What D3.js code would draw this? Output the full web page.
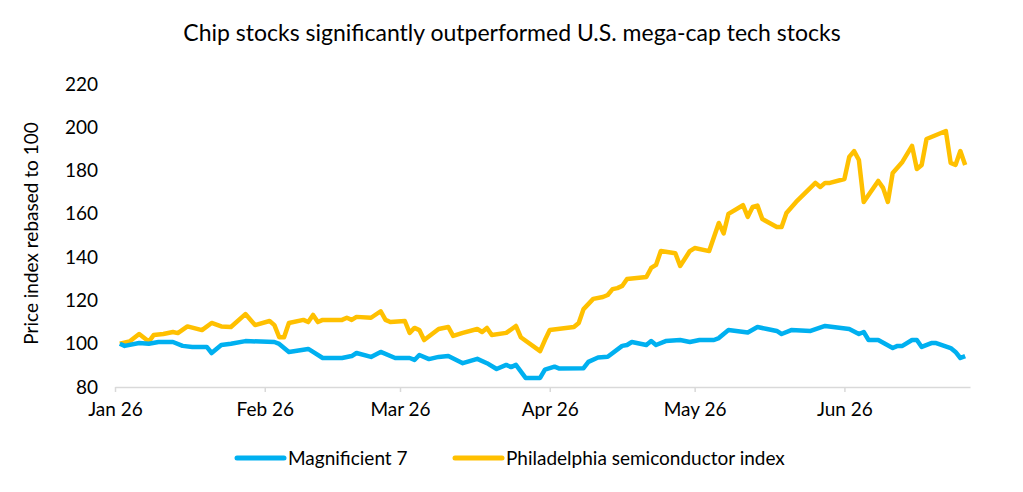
<!DOCTYPE html>
<html>
<head>
<meta charset="utf-8">
<script src="https://cdn.jsdelivr.net/npm/d3@7/dist/d3.min.js"></script>
<style>
	body { margin: 0; background: #fff; }
	text { font-family: Lato, "Open Sans", sans-serif; fill: #000; }
</style>
</head>
<body>
<div id="chart_container"></div>
<script>
// chart values
var chartTitle = "Chip stocks significantly outperformed U.S. mega-cap tech stocks";
var yAxisTitle = "Price index rebased to 100";
var seriesNames = ["Magnificient 7", "Philadelphia semiconductor index"];
var yTicks = [80, 100, 120, 140, 160, 180, 200, 220];
var xTicks = ["2026-01-01", "2026-02-01", "2026-03-01", "2026-04-01", "2026-05-01", "2026-06-01"];
var xDomain = ["2026-01-01", "2026-06-27"];

var m7Dates = ["2026-01-02","2026-01-03","2026-01-06","2026-01-08","2026-01-10","2026-01-13","2026-01-15","2026-01-17","2026-01-20","2026-01-21",
	"2026-01-23","2026-01-25","2026-01-28","2026-02-03","2026-02-04","2026-02-06","2026-02-10","2026-02-11","2026-02-13","2026-02-17",
	"2026-02-19","2026-02-20","2026-02-23","2026-02-25","2026-02-28","2026-03-03","2026-03-04","2026-03-05","2026-03-07","2026-03-09",
	"2026-03-11","2026-03-14","2026-03-17","2026-03-19","2026-03-21","2026-03-23","2026-03-24","2026-03-25","2026-03-27","2026-03-30",
	"2026-03-31","2026-04-02","2026-04-03","2026-04-08","2026-04-09","2026-04-11","2026-04-13","2026-04-16","2026-04-17","2026-04-18",
	"2026-04-21","2026-04-22","2026-04-23","2026-04-25","2026-04-28","2026-04-30","2026-05-02","2026-05-05","2026-05-06","2026-05-07",
	"2026-05-08","2026-05-12","2026-05-14","2026-05-16","2026-05-18","2026-05-19","2026-05-21","2026-05-25","2026-05-28","2026-06-02",
	"2026-06-04","2026-06-05","2026-06-06","2026-06-08","2026-06-11","2026-06-12","2026-06-13","2026-06-15","2026-06-16","2026-06-17",
	"2026-06-19","2026-06-20","2026-06-23","2026-06-24","2026-06-25","2026-06-26"];
var m7Values = [100,99,100.3,100,100.8,100.8,99,98.5,98.5,95.7,
	99.4,100,101.2,100.8,99.9,96.2,97.6,96.2,93.4,93.4,
	94.3,95.7,93.9,96.2,93.4,93.4,92.5,94.8,92.9,93.9,
	94.3,91,93,91,88.3,90.2,89.2,90.2,84.2,84.2,
	88,89.4,88.5,88.7,91.6,93.6,94,99,99.4,100.8,
	99.4,101.2,99.4,101.2,101.7,100.8,101.7,101.7,102.6,104.5,
	106.3,105.2,107.7,106.8,105.9,104.5,106.3,105.9,108.2,106.8,
	104.5,105.4,101.7,101.7,98,99,99,101.7,101.7,98.5,
	100.3,100.3,98,96.2,93.4,94.3];

var soxDates = ["2026-01-02","2026-01-04","2026-01-06","2026-01-08","2026-01-09","2026-01-11","2026-01-13","2026-01-14","2026-01-16","2026-01-19",
	"2026-01-21","2026-01-23","2026-01-25","2026-01-28","2026-01-30","2026-02-02","2026-02-03","2026-02-04","2026-02-05","2026-02-06",
	"2026-02-09","2026-02-10","2026-02-11","2026-02-12","2026-02-13","2026-02-17","2026-02-18","2026-02-19","2026-02-20","2026-02-23",
	"2026-02-25","2026-02-26","2026-02-27","2026-03-02","2026-03-03","2026-03-04","2026-03-05","2026-03-06","2026-03-09","2026-03-11",
	"2026-03-12","2026-03-14","2026-03-17","2026-03-18","2026-03-19","2026-03-20","2026-03-23","2026-03-25","2026-03-26","2026-03-30",
	"2026-03-31","2026-04-01","2026-04-06","2026-04-07","2026-04-08","2026-04-10","2026-04-12","2026-04-13","2026-04-14","2026-04-15",
	"2026-04-16","2026-04-17","2026-04-21","2026-04-22","2026-04-23","2026-04-24","2026-04-27","2026-04-28","2026-04-30","2026-05-01",
	"2026-05-04","2026-05-06","2026-05-07","2026-05-08","2026-05-11","2026-05-12","2026-05-13","2026-05-14","2026-05-15","2026-05-18",
	"2026-05-19","2026-05-20","2026-05-22","2026-05-26","2026-05-27","2026-05-28","2026-05-29","2026-06-01","2026-06-02","2026-06-03",
	"2026-06-04","2026-06-05","2026-06-08","2026-06-09","2026-06-10","2026-06-11","2026-06-13","2026-06-15","2026-06-16","2026-06-17",
	"2026-06-18","2026-06-22","2026-06-23","2026-06-24","2026-06-25","2026-06-26"];
var soxValues = [100,101,104.5,101,104,104.5,105.4,104.9,108,106.3,
	109.6,108,107.7,113.7,108.6,110.5,108.6,103,103,109.6,
	111,110,113.3,110,111,111,112,111,112.4,112,
	115,111,110,110.5,105,107.3,106.3,101.7,106.8,107.7,
	103.6,105,106.8,105.4,107.3,104,105,108.2,103,96.6,
	101.7,106.3,107.7,109.6,116,120.7,121.6,122.5,125.2,125.7,
	126.7,129.9,130.8,135,136.4,142.8,141.8,135.9,142.8,144.2,
	142.8,155.8,151,160,164,158.6,163.2,163.8,157.6,153.9,
	153.9,160.4,165.5,174.3,172.4,174.3,174.3,176.1,186.3,189,
	184.9,165.5,175.2,172,165.5,178.9,184,191.4,180.7,182.6,
	194.6,198.3,183.5,182.6,189,182.6];

var seriesColors = ["#00B0F0", "#FFC000"];

var width = 1023, height = 492;
var plot = {left: 115, right: 970, top: 84, bottom: 387};
var parseDate = d3.timeParse("%Y-%m-%d");

function makeSeries(dates, values){
	var pts = [];
	for(var i = 0; i < dates.length; i++){
		pts.push({date: parseDate(dates[i]), value: values[i]});
	}
	return pts;
}

function drawChart(){
	var svg = d3.select("#chart_container").append("svg")
		.attr("width", width)
		.attr("height", height);

	var x = d3.scaleTime()
		.domain(xDomain.map(parseDate))
		.range([plot.left, plot.right]);
	var y = d3.scaleLinear()
		.domain([80, 220])
		.range([plot.bottom, plot.top]);

	// title
	svg.append("text")
		.attr("x", 512)
		.attr("y", 41)
		.attr("text-anchor", "middle")
		.style("font-size", "23px")
		.text(chartTitle);

	// y axis, labels only
	var yAxis = svg.append("g")
		.attr("transform", "translate(" + plot.left + ",0)")
		.call(d3.axisLeft(y).tickValues(yTicks).tickSize(0).tickPadding(17));
	yAxis.select(".domain").remove();
	yAxis.selectAll("text").style("font-size", "19px").style("font-family", "Lato, sans-serif");

	svg.append("text")
		.attr("transform", "translate(38," + ((plot.top + plot.bottom) / 2 - 2) + ") rotate(-90)")
		.attr("text-anchor", "middle")
		.style("font-size", "19px")
		.text(yAxisTitle);

	// x axis
	var xAxis = svg.append("g")
		.attr("transform", "translate(0," + plot.bottom + ")")
		.call(d3.axisBottom(x)
			.tickValues(xTicks.map(parseDate))
			.tickFormat(d3.timeFormat("%b %y"))
			.tickSizeInner(5).tickSizeOuter(0).tickPadding(11));
	xAxis.select(".domain").attr("stroke", "#D9D9D9").attr("stroke-width", 1.5);
	xAxis.selectAll(".tick line").attr("stroke", "#D9D9D9").attr("stroke-width", 1.5);
	xAxis.selectAll("text").style("font-size", "19px").style("font-family", "Lato, sans-serif");

	var line = d3.line()
		.x(function(d){ return x(d.date); })
		.y(function(d){ return y(d.value); });

	var allSeries = [makeSeries(m7Dates, m7Values), makeSeries(soxDates, soxValues)];
	for(var s = allSeries.length - 1; s >= 0; s--){
		svg.append("path")
			.datum(allSeries[s])
			.attr("d", line)
			.attr("fill", "none")
			.attr("stroke", seriesColors[s])
			.attr("stroke-width", 4.5)
			.attr("stroke-linejoin", "round");
	}

	// legend
	var legendX = [237, 455];
	for(var j = 0; j < seriesNames.length; j++){
		svg.append("line")
			.attr("x1", legendX[j]).attr("x2", legendX[j] + 47)
			.attr("y1", 458).attr("y2", 458)
			.attr("stroke", seriesColors[j])
			.attr("stroke-width", 5)
			.attr("stroke-linecap", "round");
		svg.append("text")
			.attr("x", legendX[j] + 51)
			.attr("y", 465)
			.style("font-size", "19px")
			.text(seriesNames[j]);
	}
}

drawChart();
</script>
</body>
</html>
